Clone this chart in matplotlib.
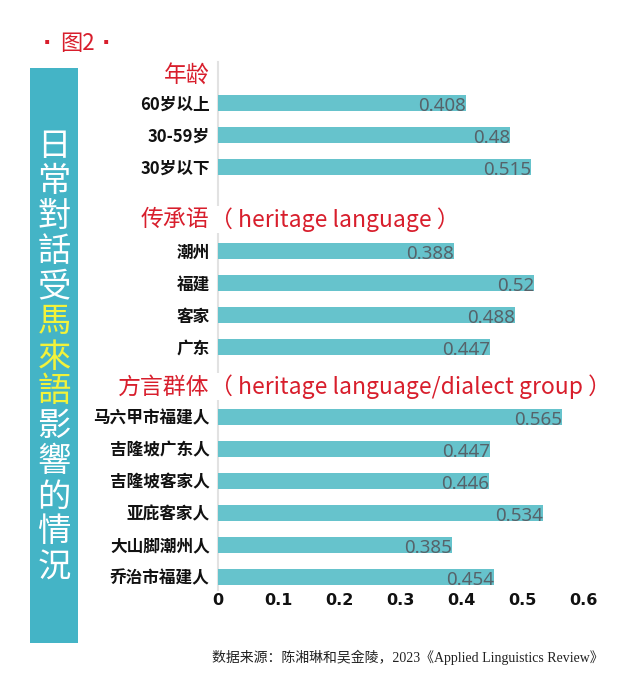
import matplotlib
matplotlib.use("Agg")
import matplotlib.pyplot as plt
from matplotlib.patches import Rectangle

plt.rcParams['font.family'] = ['Noto Sans CJK SC', 'DejaVu Sans']

# ---- data ----
group_titles_cn = ["年龄", "传承语", "方言群体"]
group_titles_en = ["", "（ heritage language ）", "（ heritage language/dialect group ）"]
age_labels = ["60岁以上", "30-59岁", "30岁以下"]
age_values = [0.408, 0.48, 0.515]
heritage_labels = ["潮州", "福建", "客家", "广东"]
heritage_values = [0.388, 0.52, 0.488, 0.447]
dialect_labels = ["马六甲市福建人", "吉隆坡广东人", "吉隆坡客家人", "亚庇客家人", "大山脚潮州人", "乔治市福建人"]
dialect_values = [0.565, 0.447, 0.446, 0.534, 0.385, 0.454]
xticks = [0, 0.1, 0.2, 0.3, 0.4, 0.5, 0.6]
xtick_labels = ["0", "0.1", "0.2", "0.3", "0.4", "0.5", "0.6"]
side_title_white1 = "日常對話受"
side_title_yellow = "馬來語"
side_title_white2 = "影響的情況"
fig_title = "图2"
source = "数据来源：陈湘琳和吴金陵，2023《Applied Linguistics Review》"

groups = [(age_labels, age_values), (heritage_labels, heritage_values), (dialect_labels, dialect_values)]

W, H = 631, 690
fig = plt.figure(figsize=(W / 100, H / 100), dpi=100)
fig.patch.set_facecolor("white")

ax_left, ax_right = 218 / W, 583 / W
ax_top_px, ax_bot_px = 62, 590
ax = fig.add_axes([ax_left, 1 - ax_bot_px / H, ax_right - ax_left, (ax_bot_px - ax_top_px) / H])

bar_color = "#66c3cc"
red = "#d81e2c"

# row layout (units of one bar row)
group_starts = [0.0, 4.62, 9.8]
header_offsets = [-0.85, -0.97, -0.93]

ypos_all, labels_all = [], []
for gi, (labs, vals) in enumerate(groups):
    ys = [group_starts[gi] + i for i in range(len(labs))]
    ax.barh(ys, vals, height=0.5, color=bar_color, zorder=2)
    for y, v in zip(ys, vals):
        ax.annotate(f"{v:g}", (v, y), xytext=(0, -2.5), textcoords="offset points",
                    ha="right", va="center", fontsize=13.5, color="#56636a",
                    fontweight="light", family=["Noto Sans", "DejaVu Sans"], zorder=3)
    ypos_all += ys
    labels_all += labs
    hy = group_starts[gi] + header_offsets[gi]
    ax.annotate(group_titles_cn[gi], (0, hy), xytext=(-6, 0), textcoords="offset points",
                ha="right", va="center", fontsize=16.5, color=red, annotation_clip=False)
    if group_titles_en[gi]:
        ax.annotate(group_titles_en[gi], (0, hy), xytext=(-6, 0), textcoords="offset points",
                    ha="left", va="center", fontsize=16.5, color=red, annotation_clip=False,
                    family=["Noto Sans CJK SC", "DejaVu Sans"],
                    bbox=dict(facecolor="white", edgecolor="none", pad=1), zorder=5)

ax.set_yticks(ypos_all)
ax.set_yticklabels(labels_all, fontsize=12, fontweight="heavy", color="#111111")
ax.tick_params(axis="y", length=0, pad=6)

ax.set_xlim(0, 0.6)
ax.set_ylim(15.22, -1.28)
ax.set_xticks(xticks)
ax.set_xticklabels(xtick_labels, fontsize=11.5, fontweight="bold", color="#111111",
                   family=["DejaVu Sans"])
ax.tick_params(axis="x", length=0, pad=2)

for s in ["top", "right", "bottom"]:
    ax.spines[s].set_visible(False)
ax.spines["left"].set_color("#e2e2e2")
ax.spines["left"].set_linewidth(1.5)
ax.spines["left"].set_zorder(1)

# side teal box
box = Rectangle((30 / W, 1 - 643 / H), 48 / W, (643 - 68) / H, transform=fig.transFigure,
                facecolor="#44b4c6", edgecolor="none")
fig.patches.append(box)
chars = list(side_title_white1) + list(side_title_yellow) + list(side_title_white2)
colors = ["white"] * len(side_title_white1) + ["#f2f23a"] * len(side_title_yellow) + ["white"] * len(side_title_white2)
y0, step = 147, 35.0
for i, (c, col) in enumerate(zip(chars, colors)):
    fig.text(54 / W, 1 - (y0 + i * step) / H, c, ha="center", va="center",
             fontsize=24, color=col, fontweight="light")

# title with bullet dots
fig.text(47 / W, 1 - 43 / H, "·", ha="center", va="center", fontsize=16, color=red,
         family=["DejaVu Sans"], fontweight="bold")
fig.text(77 / W, 1 - 43 / H, fig_title, ha="center", va="center", fontsize=16, color=red)
fig.text(106 / W, 1 - 43 / H, "·", ha="center", va="center", fontsize=16, color=red,
         family=["DejaVu Sans"], fontweight="bold")

fig.text(212 / W, 1 - 657 / H, source, ha="left", va="center", fontsize=10, color="#222222",
         family=["Liberation Serif", "Noto Sans CJK SC"])

fig.savefig("out.png", dpi=100, facecolor="white")
